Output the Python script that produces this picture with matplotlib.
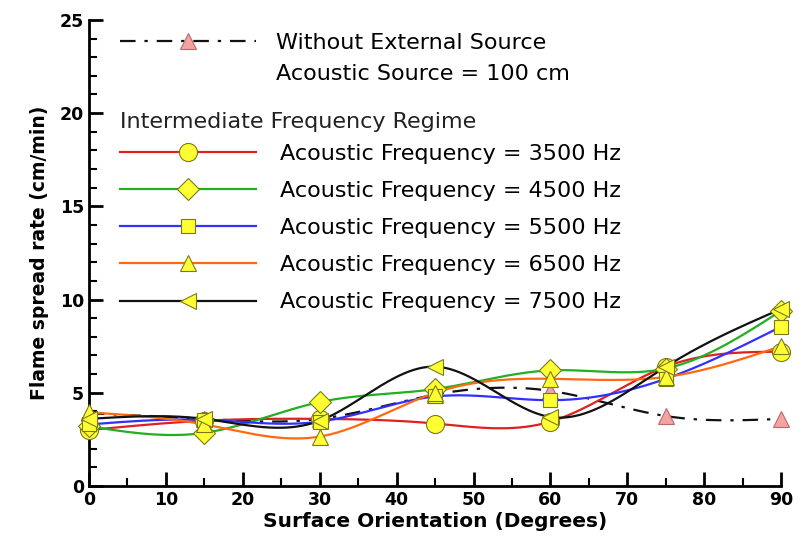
import numpy as np
import matplotlib
matplotlib.use('Agg')
from matplotlib import pyplot as plt
from matplotlib.lines import Line2D
from matplotlib.ticker import MultipleLocator

angles = [0, 15, 30, 45, 60, 75, 90]
without_source = [3.9, 3.6, 3.6, 4.9, 5.1, 3.75, 3.6]
freq_3500 = [3.0, 3.5, 3.6, 3.35, 3.45, 6.4, 7.2]
freq_4500 = [3.2, 2.85, 4.5, 5.2, 6.2, 6.3, 9.4]
freq_5500 = [3.3, 3.55, 3.45, 4.8, 4.6, 5.75, 8.55]
freq_6500 = [3.95, 3.3, 2.65, 5.0, 5.75, 5.85, 7.5]
freq_7500 = [3.6, 3.6, 3.5, 6.4, 3.7, 6.4, 9.5]

labels = ['Acoustic Frequency = 3500 Hz', 'Acoustic Frequency = 4500 Hz',
          'Acoustic Frequency = 5500 Hz', 'Acoustic Frequency = 6500 Hz',
          'Acoustic Frequency = 7500 Hz']
colors = ['#e02020', '#20b020', '#3030ff', '#ff6a10', '#111111']
markers = ['o', 'D', 's', '^', '<']
msizes = [13, 11, 10, 12, 12]


def smooth(x, y, n=300):
    # natural cubic spline, only used to draw the curve between points
    x = np.asarray(x, float)
    y = np.asarray(y, float)
    h = np.diff(x)
    k = len(x)
    A = np.zeros((k, k))
    b = np.zeros(k)
    A[0, 0] = A[-1, -1] = 1
    for i in range(1, k - 1):
        A[i, i - 1] = h[i - 1]
        A[i, i] = 2 * (h[i - 1] + h[i])
        A[i, i + 1] = h[i]
        b[i] = 6 * ((y[i + 1] - y[i]) / h[i] - (y[i] - y[i - 1]) / h[i - 1])
    M = np.linalg.solve(A, b)
    xs = np.linspace(x[0], x[-1], n)
    idx = np.clip(np.searchsorted(x, xs) - 1, 0, k - 2)
    t0 = x[idx + 1] - xs
    t1 = xs - x[idx]
    hi = h[idx]
    ys = (M[idx] * t0 ** 3 + M[idx + 1] * t1 ** 3) / (6 * hi) \
        + (y[idx] / hi - M[idx] * hi / 6) * t0 \
        + (y[idx + 1] / hi - M[idx + 1] * hi / 6) * t1
    return xs, ys


fig = plt.figure(figsize=(7.98, 5.38), dpi=100)
ax = fig.add_axes([0.1115, 0.0967, 0.8675, 0.8663])

series = [freq_3500, freq_4500, freq_5500, freq_6500, freq_7500]
handles = []
for vals, c, m, ms, lab in zip(series, colors, markers, msizes, labels):
    xs, ys = smooth(angles, vals)
    ax.plot(xs, ys, color=c, lw=1.6, zorder=3)
    ax.plot(angles, vals, linestyle='none', marker=m, ms=ms, mfc='#ffff33',
            mec='#7a7a18', mew=0.8, clip_on=False, zorder=4)
    handles.append(Line2D([], [], color=c, lw=1.6, marker=m, ms=ms,
                          mfc='#ffff33', mec='#7a7a18', mew=0.8))

dashdot = (0, (7, 4, 1.5, 4))
xs, ys = smooth(angles, without_source)
ax.plot(xs, ys, color='#111111', lw=1.6, linestyle=dashdot, zorder=2)
ax.plot(angles, without_source, linestyle='none', marker='^', ms=12,
        mfc='#f4a3a3', mec='#b86a6a', mew=0.8, clip_on=False, zorder=2)

ax.set_xlim(0, 90)
ax.set_ylim(0, 25)
ax.xaxis.set_major_locator(MultipleLocator(10))
ax.xaxis.set_minor_locator(MultipleLocator(5))
ax.yaxis.set_major_locator(MultipleLocator(5))
ax.yaxis.set_minor_locator(MultipleLocator(1))
ax.tick_params(which='major', direction='in', length=10, width=2, labelsize=12.5)
ax.tick_params(which='minor', direction='in', length=6, width=1.5)
for lab in ax.get_xticklabels() + ax.get_yticklabels():
    lab.set_fontweight('bold')
for s in ['top', 'right']:
    ax.spines[s].set_visible(False)
for s in ['left', 'bottom']:
    ax.spines[s].set_linewidth(2)

ax.set_xlabel('Surface Orientation (Degrees)', fontsize=14.5,
              fontweight='bold', labelpad=2)
ax.set_ylabel('Flame spread rate (cm/min)', fontsize=13.5,
              fontweight='bold', labelpad=8)

h_without = Line2D([], [], color='#111111', lw=1.6, linestyle=dashdot,
                   marker='^', ms=12, mfc='#f4a3a3', mec='#b86a6a', mew=0.8)
h_blank = Line2D([], [], linestyle='none')
leg1 = ax.legend([h_without, h_blank],
                 ['Without External Source', 'Acoustic Source = 100 cm'],
                 loc='upper left', bbox_to_anchor=(0.045, 0.972), frameon=False,
                 fontsize=16, handlelength=6.1, handletextpad=0.9,
                 labelspacing=0.5, borderpad=0, borderaxespad=0, numpoints=1)
ax.add_artist(leg1)
ax.text(0.045, 0.780, 'Intermediate Frequency Regime', transform=ax.transAxes,
        fontsize=16, va='center', ha='left', color='#222222')
ax.legend(handles, labels, loc='upper left', bbox_to_anchor=(0.045, 0.734),
          frameon=False, fontsize=16, handlelength=6.1, handletextpad=1.1,
          labelspacing=0.77, borderpad=0, borderaxespad=0, numpoints=1)

fig.savefig('out.png', dpi=100)
